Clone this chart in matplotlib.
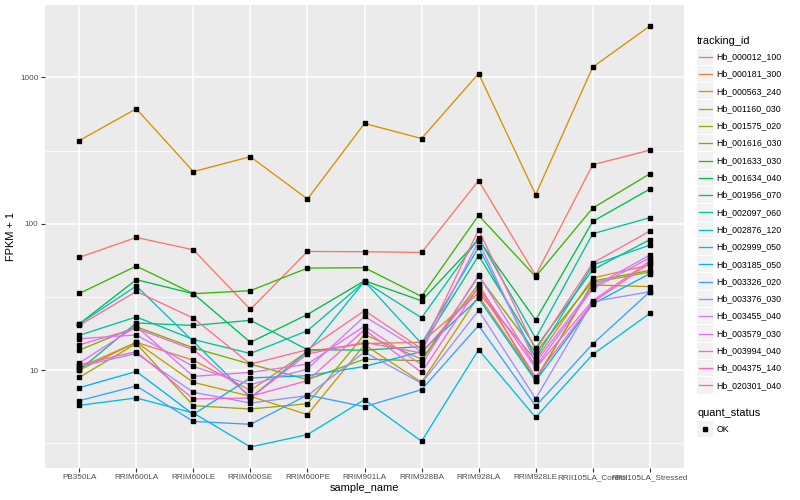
import matplotlib
matplotlib.use("Agg")
import matplotlib.pyplot as plt
import numpy as np
from matplotlib.patches import Rectangle
from matplotlib.ticker import FixedLocator, NullFormatter

plt.rcParams["font.family"] = ["Liberation Sans", "DejaVu Sans"]

samples = ["PB350LA", "RRIM600LA", "RRIM600LE", "RRIM600SE", "RRIM600PE",
           "RRIM901LA", "RRIM928BA", "RRIM928LA", "RRIM928LE",
           "RRII105LA_Control", "RRII105LA_Stressed"]

tracking_ids = ["Hb_000012_100", "Hb_000181_300", "Hb_000563_240", "Hb_001160_030",
                "Hb_001575_020", "Hb_001616_030", "Hb_001633_030", "Hb_001634_040",
                "Hb_001956_070", "Hb_002097_060", "Hb_002876_120", "Hb_002999_050",
                "Hb_003185_050", "Hb_003326_020", "Hb_003376_030", "Hb_003455_040",
                "Hb_003579_030", "Hb_003994_040", "Hb_004375_140", "Hb_020301_040"]

# ggplot hue palette, 20 levels
colors = ["#F8766D", "#EA8331", "#D89000", "#C09B00", "#A3A500", "#7CAE00",
          "#39B600", "#00BB4E", "#00BF7D", "#00C1A3", "#00BFC4", "#00BAE0",
          "#00B0F6", "#35A2FF", "#9590FF", "#C77CFF", "#E76BF3", "#FA62DB",
          "#FF62BC", "#FF6C91"]

y_ticks = [10, 100, 1000]
y_tick_labels = ["10", "100", "1000"]

# FPKM + 1, one list per tracking id, in sample order
hb_000012_100 = [58.9, 80.6, 66.4, 26.0, 64.7, 64.4, 63.7, 197, 44.4, 253, 318]
hb_000181_300 = [10.4, 15.5, 11.7, 7.28, 13.4, 15.2, 15.5, 33.7, 11.7, 42.6, 52.3]
hb_000563_240 = [370, 610, 227, 287, 147.5, 484, 382, 1062, 158, 1174, 2240]
hb_001160_030 = [10.0, 15.5, 8.26, 6.63, 4.97, 14.9, 8.26, 32.2, 8.71, 38.2, 37.2]
hb_001575_020 = [8.93, 15.2, 5.72, 5.43, 5.90, 17.5, 11.9, 38.8, 8.44, 39.6, 46.8]
hb_001616_030 = [13.7, 19.8, 14.2, 11.0, 8.62, 11.9, 11.6, 43.7, 13.2, 40.6, 48.0]
hb_001633_030 = [33.4, 51.4, 33.3, 34.9, 49.8, 50.1, 31.9, 114, 43.5, 128, 219]
hb_001634_040 = [20.7, 41.5, 33.3, 15.5, 24.0, 40.8, 29.8, 77.8, 22.0, 103.7, 172.5]
hb_001956_070 = [10.0, 21.0, 20.2, 21.9, 13.8, 13.7, 14.5, 60.5, 14.2, 48.5, 77.8]
hb_002097_060 = [17.3, 23.1, 16.2, 13.0, 18.6, 40.2, 22.8, 79.9, 16.5, 85.5, 110]
hb_002876_120 = [20.7, 37.6, 15.7, 6.49, 13.4, 40.4, 15.2, 68.9, 12.1, 52.3, 71.5]
hb_002999_050 = [5.75, 6.46, 5.10, 2.99, 3.63, 6.29, 3.27, 13.8, 4.76, 12.8, 24.4]
hb_003185_050 = [7.59, 9.8, 4.99, 8.85, 9.17, 10.6, 13.4, 30.9, 8.44, 28.3, 45.6]
hb_003326_020 = [6.19, 7.80, 4.47, 4.27, 6.77, 5.63, 7.36, 20.2, 5.69, 15.1, 34.3]
hb_003376_030 = [10.6, 13.0, 7.06, 5.97, 6.70, 13.3, 8.13, 25.6, 6.39, 29.4, 34.3]
hb_003455_040 = [16.4, 17.4, 10.6, 7.96, 10.2, 23.3, 13.4, 75.7, 11.3, 37.0, 61.1]
hb_003579_030 = [11.2, 19.9, 9.07, 9.66, 11.0, 20.0, 10.9, 44.6, 10.6, 36.0, 58.6]
hb_003994_040 = [14.9, 19.3, 13.8, 6.63, 8.48, 18.9, 9.66, 37.3, 10.35, 29.8, 55.6]
hb_004375_140 = [10.9, 13.4, 6.36, 6.46, 12.9, 15.5, 13.1, 36.2, 8.99, 29.0, 53.9]
hb_020301_040 = [20.2, 34.5, 22.7, 11.0, 13.8, 25.5, 14.0, 91, 13.7, 53.9, 89.1]

series = [hb_000012_100, hb_000181_300, hb_000563_240, hb_001160_030,
          hb_001575_020, hb_001616_030, hb_001633_030, hb_001634_040,
          hb_001956_070, hb_002097_060, hb_002876_120, hb_002999_050,
          hb_003185_050, hb_003326_020, hb_003376_030, hb_003455_040,
          hb_003579_030, hb_003994_040, hb_004375_140, hb_020301_040]

W, H = 800, 500
fig = plt.figure(figsize=(W / 100, H / 100), dpi=100)
ax = fig.add_axes([45 / W, 32 / H, 639 / W, 463 / H])
ax.set_facecolor("#EBEBEB")

xs = np.arange(len(samples))
# ggplot order: every line first, then every point on top
for vals, c in zip(series, colors):
    ax.plot(xs, vals, color=c, lw=0.95, zorder=2, solid_capstyle="butt")
for vals in series:
    ax.plot(xs, vals, "s", color="black", ms=2.4, zorder=3)

ax.set_yscale("log")
# ggplot default: 5% expansion of the (log) data range
allv = np.log10(np.concatenate([np.asarray(s, float) for s in series]))
lo, hi = allv.min(), allv.max()
pad = 0.05 * (hi - lo)
ax.set_ylim(10 ** (lo - pad), 10 ** (hi + pad))
ax.set_xlim(-0.6, len(samples) - 0.4)

ax.yaxis.set_major_locator(FixedLocator(y_ticks))
ax.yaxis.set_minor_locator(FixedLocator([10 ** 0.5, 10 ** 1.5, 10 ** 2.5]))
ax.yaxis.set_minor_formatter(NullFormatter())
ax.set_yticklabels(y_tick_labels)
ax.set_xticks(xs)
ax.set_xticklabels(samples)

ax.grid(which="major", color="white", lw=1.1, zorder=1)
ax.grid(which="minor", axis="y", color="white", lw=0.55, zorder=1)
ax.set_axisbelow(True)
for sp in ax.spines.values():
    sp.set_visible(False)
ax.tick_params(which="major", length=2.8, width=0.8, color="#333333",
               labelcolor="#4D4D4D", labelsize=5.9, pad=1.8)
ax.tick_params(which="minor", length=0)

ax.set_xlabel("sample_name", fontsize=7.9, labelpad=1.5)
ax.set_ylabel("FPKM + 1", fontsize=7.9, labelpad=3)

# legend drawn in pixel coordinates
lg = fig.add_axes([0, 0, 1, 1])
lg.set_xlim(0, W)
lg.set_ylim(H, 0)
lg.axis("off")
lg.text(697, 40.5, "tracking_id", fontsize=7.9, va="center", ha="left")
step = 17.3
y0 = 56.7
for i, (name, c) in enumerate(zip(tracking_ids, colors)):
    yc = y0 + i * step
    lg.add_patch(Rectangle((697, yc - step / 2 + 0.5), 16.3, step - 1,
                           facecolor="#F2F2F2", edgecolor="none"))
    lg.plot([698.5, 711.8], [yc, yc], color=c, lw=0.95)
    lg.text(716.5, yc, name, fontsize=6.3, va="center", ha="left")

lg.text(697, 412.7, "quant_status", fontsize=7.9, va="center", ha="left")
yc = 429
lg.add_patch(Rectangle((697, yc - step / 2 + 0.5), 16.3, step - 1,
                       facecolor="#F2F2F2", edgecolor="none"))
lg.plot([705.2], [yc], "s", color="black", ms=2.4)
lg.text(716.5, yc, "OK", fontsize=6.3, va="center", ha="left")

fig.savefig("out.png", dpi=100)
